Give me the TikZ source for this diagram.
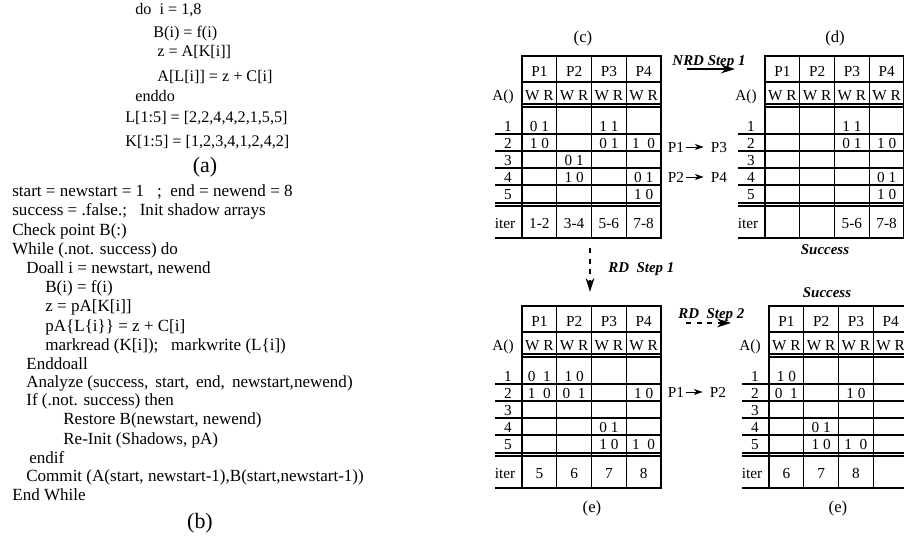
\documentclass[tikz,border=0pt]{standalone}
\usepackage{fontspec}
\setmainfont{Liberation Serif}
\usetikzlibrary{arrows.meta}

\begin{document}
\begin{tikzpicture}[x=0.02cm,y=-0.02cm,>={Stealth[length=8pt,width=5pt]},
 code/.style={anchor=west,inner sep=0,font=\fontsize{9.2}{11}\selectfont,text height=6.5pt,text depth=1.8pt},
 codeb/.style={code,font=\fontsize{9.7}{11}\selectfont},
 figlbl/.style={inner sep=0,font=\fontsize{12.5}{14}\selectfont},
 sub/.style={inner sep=0,font=\fontsize{9.5}{11}\selectfont},
 cell/.style={inner sep=0,font=\fontsize{8.7}{10}\selectfont,text height=6pt,text depth=0pt},
 tab/.style={line width=0.65pt},
 steplbl/.style={inner sep=0,font=\fontsize{8.5}{10}\selectfont\bfseries\itshape},
 small/.style={-{Stealth[length=5pt,width=3.5pt]},shorten <=1pt,shorten >=4pt}]
\useasboundingbox (0,0) rectangle (904,546);
% (a) loop
\node[code] (a1) at (135,10){do\ \ i = 1,8}; \node[code] (a2) at (153,33){B(i) = f(i)}; \node[code] (a3) at (157,52){z = A[K[i]]};
\node[code] (a4) at (157,77){A[L[i]] = z + C[i]}; \node[code] (a5) at (135,97){enddo};
\node[code] (a6) at (125,118){L[1:5] = [2,2,4,4,2,1,5,5]}; \node[code] (a7) at (125,142){K[1:5] = [1,2,3,4,1,2,4,2]};
\node[figlbl] (capa) at (205,167){(a)};
% (b) speculative version
\node[codeb] (b1) at (12,192){start = newstart = 1\ \ \ ;\ \ end = newend = 8}; \node[codeb] (b2) at (12,211){success = .false.;\ \ \ Init shadow arrays};
\node[codeb] (b3) at (12,231){Check point B(:)}; \node[codeb] (b4) at (12,250){While (.not. success) do};
\node[codeb] (b5) at (26,269){Doall i = newstart, newend}; \node[codeb] (b6) at (45,288){B(i) = f(i)}; \node[codeb] (b7) at (45,307){z = pA[K[i]]};
\node[codeb] (b8) at (45,327){pA\{L\{i\}\} = z + C[i]}; \node[codeb] (b9) at (45,346){markread (K[i]);\ \ \ markwrite (L\{i])};
\node[codeb] (b10) at (26,365){Enddoall}; \node[codeb] (b11) at (26,383){Analyze (success,\hspace{4pt}start,\hspace{4pt}end,\hspace{4pt}newstart,newend)};
\node[codeb] (b12) at (26,401){If (.not. success) then}; \node[codeb] (b13) at (63,420){Restore B(newstart, newend)};
\node[codeb] (b14) at (63,440){Re-Init (Shadows, pA)}; \node[codeb] (b15) at (29,459){endif};
\node[codeb] (b16) at (26,477){Commit (A(start, newstart-1),B(start,newstart-1))}; \node[codeb] (b17) at (12,496){End While};
\node[figlbl] (capb) at (200,523){(b)};
% shadow tables
\foreach \X/\Y/\t in {522/56/c,765/56/d,522/306/e,769/306/f}{
 \draw[tab] (\X,\Y) rectangle (\X+139,\Y+182);
 \draw[tab] (\X,\Y+26)--(\X+139,\Y+26) (\X,\Y+48)--(\X+139,\Y+48) (\X,\Y+51)--(\X+139,\Y+51) (\X-27,\Y+182)--(\X,\Y+182);
 \foreach \rw in {78,95,112,129,147,150}{\draw[tab] (\X-27,\Y+\rw)--(\X+139,\Y+\rw);}
 \foreach \cl in {1,2,3}{\draw[tab] (\X+34.75*\cl,\Y)--(\X+34.75*\cl,\Y+182);}
 \node[cell] (\t-a) at (\X-19,\Y+39){A()}; \node[cell] (\t-it) at (\X-17,\Y+167){iter};
 \foreach \cl in {1,...,4}{\node[cell] (\t-p\cl) at (\X-17.4+34.75*\cl,\Y+15.5){P\cl}; \node[cell] (\t-wr\cl) at (\X-17.4+34.75*\cl,\Y+39){W R};}
 \foreach \rw in {1,...,5}{\node[cell] (\t-r\rw) at (\X-14,\Y+53+17*\rw){\rw};}
}
\foreach \cl/\rw/\v in {1/1/{0 1},1/2/{1 0},2/3/{0 1},2/4/{1 0},3/1/{1 1},3/2/{0 1},4/2/{1\ \ 0},4/4/{0 1},4/5/{1 0}}{\node[cell] (c\cl\rw) at (504.6+34.75*\cl,109+17*\rw){\v};}
\foreach \cl/\v in {1/1-2,2/3-4,3/5-6,4/7-8}{\node[cell] (ci\cl) at (504.6+34.75*\cl,223){\v};}
\foreach \cl/\rw/\v in {3/1/{1 1},3/2/{0 1},4/2/{1 0},4/4/{0 1},4/5/{1 0}}{\node[cell] (d\cl\rw) at (747.6+34.75*\cl,109+17*\rw){\v};}
\foreach \cl/\v in {3/5-6,4/7-8}{\node[cell] (di\cl) at (747.6+34.75*\cl,223){\v};}
\foreach \cl/\rw/\v in {1/1/{0\ \ 1},1/2/{1\ \ 0},2/1/{1 0},2/2/{0\ \ 1},3/4/{0 1},3/5/{1 0},4/2/{1 0},4/5/{1\ \ 0}}{\node[cell] (e\cl\rw) at (504.6+34.75*\cl,359+17*\rw){\v};}
\foreach \cl/\v in {1/5,2/6,3/7,4/8}{\node[cell] (ei\cl) at (504.6+34.75*\cl,473){\v};}
\foreach \cl/\rw/\v in {1/1/{1 0},1/2/{0\ \ 1},2/4/{0 1},2/5/{1 0},3/2/{1 0},3/5/{1\ \ 0}}{\node[cell] (f\cl\rw) at (751.6+34.75*\cl,359+17*\rw){\v};}
\foreach \cl/\v in {1/6,2/7,3/8}{\node[cell] (fi\cl) at (751.6+34.75*\cl,473){\v};}
\node[sub] (capc) at (583,38){(c)}; \node[sub] (capd) at (835,38){(d)}; \node[sub] (cape) at (592,508){(e)}; \node[sub] (capf) at (838,508){(e)};
\node[steplbl] (succd) at (825,250){Success}; \node[steplbl] (succf) at (827,293){Success};
% steps
\node[steplbl] (nrd) at (709,62){NRD Step 1}; \coordinate (nrd1) at (687,69); \coordinate (nrd2) at (735,69); \draw[->,line width=1.2pt] (nrd1)--(nrd2);
\coordinate (rd1a) at (590,248); \coordinate (rd1b) at (590,292); \draw[->,dashed,line width=0.8pt] (rd1a)--(rd1b); \node[steplbl,anchor=west] (rd1) at (608,269){RD\ \ Step 1};
\node[steplbl,anchor=west] (rd2) at (678,315){RD\ \ Step 2}; \coordinate (rd2a) at (686,323); \coordinate (rd2b) at (731,323); \draw[->,dashed,line width=0.8pt] (rd2a)--(rd2b);
\node[cell] (pa1) at (676,147){P1}; \node[cell] (pa3) at (719,147){P3}; \draw[small] (pa1)--(pa3);
\node[cell] (pb2) at (676,177){P2}; \node[cell] (pb4) at (719,177){P4}; \draw[small] (pb2)--(pb4);
\node[cell] (pc1) at (676,392){P1}; \node[cell] (pc2) at (718,392){P2}; \draw[small] (pc1)--(pc2);
\end{tikzpicture}
\end{document}
